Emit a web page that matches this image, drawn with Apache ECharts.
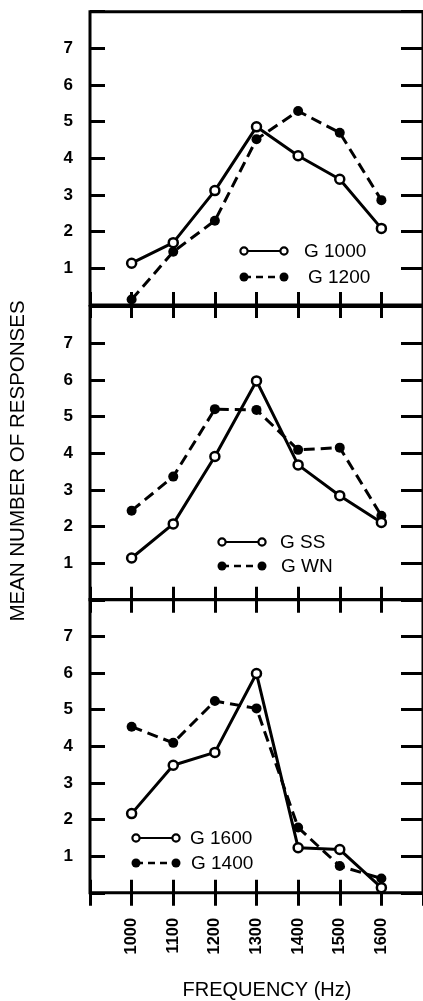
<!DOCTYPE html>
<html><head><meta charset="utf-8">
<script src="https://cdn.jsdelivr.net/npm/echarts@6/dist/echarts.min.js"></script>
<style>html,body{margin:0;padding:0;background:#fff}#c{width:423px;height:1001px}</style>
</head><body><div id="c"></div>
<script>
const frequencies = [1000, 1100, 1200, 1300, 1400, 1500, 1600];
const yTicks = [1, 2, 3, 4, 5, 6, 7];
const g1000 = [1.14, 1.70, 3.12, 4.86, 4.07, 3.43, 2.09];
const g1200 = [0.15, 1.45, 2.30, 4.52, 5.29, 4.70, 2.86];
const gSS   = [1.14, 2.07, 3.91, 5.97, 3.68, 2.84, 2.11];
const gWN   = [2.43, 3.36, 5.20, 5.18, 4.09, 4.15, 2.29];
const g1600 = [2.16, 3.48, 3.83, 5.98, 1.23, 1.18, 0.14];
const g1400 = [4.53, 4.09, 5.23, 5.03, 1.78, 0.73, 0.39];
const openNames = ['G 1000', 'G SS', 'G 1600'];
const filledNames = ['G 1200', 'G WN', 'G 1400'];
const xTitle = 'FREQUENCY (Hz)';
const yTitle = 'MEAN NUMBER OF RESPONSES';

const openData = [g1000, gSS, g1600];
const filledData = [g1200, gWN, g1400];

const FONT = 'Liberation Sans, Arial, sans-serif';
const gridTops = [11.7, 306.5, 599.5];
const gridH = 293.3;

const grids = [], xAxes = [], yAxes = [], series = [];
gridTops.forEach((top, i) => {
  grids.push({ left: 90, top: top, width: 337, height: gridH, show: true,
    borderColor: '#000', borderWidth: 3, backgroundColor: 'transparent' });
  const xBase = { type: 'value', gridIndex: i, min: 900, max: 1700, interval: 100,
    axisLine: { show: false }, splitLine: { show: false },
    axisTick: { show: true, inside: true, length: 13, lineStyle: { color: '#000', width: 3 } },
    axisLabel: { show: false } };
  xAxes.push(Object.assign({}, xBase, { position: 'bottom' }));
  xAxes.push(Object.assign({}, xBase, { position: 'top' }));
  const yBase = { type: 'value', gridIndex: i, min: 0, max: 8, interval: 1,
    axisLine: { show: false }, splitLine: { show: false } };
  yAxes.push(Object.assign({}, yBase, { position: 'left',
    axisTick: { show: true, inside: true, length: 15, lineStyle: { color: '#000', width: 3 } },
    axisLabel: { show: true, margin: 17, color: '#000', fontFamily: FONT, fontSize: 17, fontWeight: 'bold',
      formatter: v => (yTicks.indexOf(v) >= 0 ? '{y|' + v + '}' : ''),
      rich: { y: { fontFamily: FONT, fontSize: 17, fontWeight: 'bold', color: '#000' } } } }));
  yAxes.push(Object.assign({}, yBase, { position: 'right',
    axisTick: { show: true, inside: true, length: 22, lineStyle: { color: '#000', width: 3 } },
    axisLabel: { show: false } }));
});
// extra outward ticks + labels at bottom of last panel
xAxes.push({ type: 'value', gridIndex: 2, position: 'bottom', min: 900, max: 1700, interval: 100,
  axisLine: { show: false }, splitLine: { show: false },
  axisTick: { show: true, inside: false, length: 11, lineStyle: { color: '#000', width: 3 } },
  axisLabel: { show: true, rotate: 90, margin: 25, color: '#000', fontFamily: FONT, fontSize: 16.5, fontWeight: 'bold',
    formatter: v => (frequencies.indexOf(v) >= 0 ? '{x|' + v + '}' : ''),
    rich: { x: { fontFamily: FONT, fontSize: 16.5, fontWeight: 'bold', color: '#000' } } } });

for (let i = 0; i < 3; i++) {
  series.push({ type: 'line', name: filledNames[i], xAxisIndex: i * 2, yAxisIndex: i * 2,
    data: frequencies.map((f, k) => [f, filledData[i][k]]),
    symbol: 'circle', symbolSize: 10,
    itemStyle: { color: '#000' },
    lineStyle: { color: '#000', width: 3, type: [11, 6] }, z: 2 });
  series.push({ type: 'line', name: openNames[i], xAxisIndex: i * 2, yAxisIndex: i * 2,
    data: frequencies.map((f, k) => [f, openData[i][k]]),
    symbol: 'circle', symbolSize: 9,
    itemStyle: { color: '#fff', borderColor: '#000', borderWidth: 2.5 },
    lineStyle: { color: '#000', width: 3 }, z: 3 });
}

// legend decorations
const legendPos = [
  { x1: 244, x2: 284, y1: 251, y2: 277, t1: 304, t2: 308 },
  { x1: 222, x2: 262, y1: 542, y2: 566, t1: 280, t2: 281 },
  { x1: 136, x2: 176, y1: 838, y2: 863, t1: 190, t2: 191 }
];
const graphic = [];
legendPos.forEach((p, i) => {
  graphic.push({ type: 'line', shape: { x1: p.x1, y1: p.y1, x2: p.x2, y2: p.y1 },
    style: { stroke: '#000', lineWidth: 2 }, z: 10 });
  graphic.push({ type: 'circle', shape: { cx: p.x1, cy: p.y1, r: 3.6 }, style: { fill: '#fff', stroke: '#000', lineWidth: 2.2 }, z: 11 });
  graphic.push({ type: 'circle', shape: { cx: p.x2, cy: p.y1, r: 3.6 }, style: { fill: '#fff', stroke: '#000', lineWidth: 2.2 }, z: 11 });
  graphic.push({ type: 'text', x: p.t1, y: p.y1 + 1, style: { text: openNames[i], fill: '#000',
    font: '19px ' + FONT, textAlign: 'left', textVerticalAlign: 'middle' }, z: 11 });
  graphic.push({ type: 'line', shape: { x1: p.x1, y1: p.y2, x2: p.x2, y2: p.y2 },
    style: { stroke: '#000', lineWidth: 2.5, lineDash: [7, 5] }, z: 10 });
  graphic.push({ type: 'circle', shape: { cx: p.x1, cy: p.y2, r: 4.5 }, style: { fill: '#000' }, z: 11 });
  graphic.push({ type: 'circle', shape: { cx: p.x2, cy: p.y2, r: 4.5 }, style: { fill: '#000' }, z: 11 });
  graphic.push({ type: 'text', x: p.t2, y: p.y2 + 1, style: { text: filledNames[i], fill: '#000',
    font: '19px ' + FONT, textAlign: 'left', textVerticalAlign: 'middle' }, z: 11 });
});
graphic.push({ type: 'text', x: 267, y: 990, style: { text: xTitle, fill: '#000',
  font: '20px ' + FONT, textAlign: 'center', textVerticalAlign: 'middle' } });
graphic.push({ type: 'text', x: 18.5, y: 461, rotation: Math.PI / 2, style: { text: yTitle, fill: '#000',
  font: '20.5px ' + FONT, textAlign: 'center', textVerticalAlign: 'middle' } });

const chart = echarts.init(document.getElementById('c'), null, { renderer: 'canvas' });
chart.setOption({
  animation: false,
  backgroundColor: '#fff',
  textStyle: { fontFamily: FONT },
  grid: grids, xAxis: xAxes, yAxis: yAxes, series: series, graphic: graphic
});
</script></body></html>
